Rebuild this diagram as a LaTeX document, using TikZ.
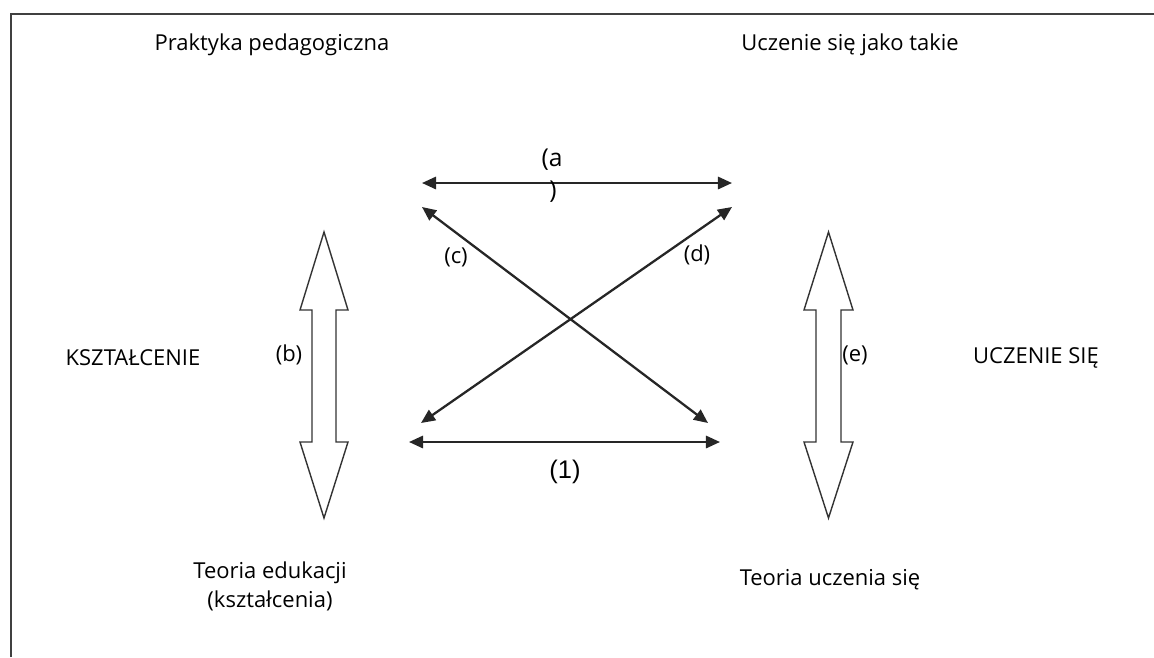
\documentclass[tikz,border=0pt]{standalone}
\usepackage{fontspec}
\setmainfont{Open Sans}
\newfontfamily\numfont{Liberation Sans}
\usepackage{tikz}
\usetikzlibrary{arrows.meta,positioning}

\tikzset{
  caption/.style={font=\fontsize{12.5}{16.5}\selectfont, inner sep=1pt, align=center},
  tag/.style={font=\fontsize{12.5}{15}\selectfont, inner sep=1pt},
  link/.style={line width=1.3pt, draw=black!85, {Triangle[length=8pt,width=7pt]}-{Triangle[length=8pt,width=7pt]}},
  blockarrow/.style={draw=black!80, line width=0.8pt, fill=white, line join=miter},
  frame/.style={draw=black!75, line width=1.1pt}
}

% hollow two-headed arrow, centre x, half shaft, half head
\newcommand{\blockarrow}[3]{%
  \draw[blockarrow] (#1,232) -- (#1+#3,310) -- (#1+#2,310) -- (#1+#2,442)
    -- (#1+#3,442) -- (#1,518) -- (#1-#3,442) -- (#1-#2,442)
    -- (#1-#2,310) -- (#1-#3,310) -- cycle;}

\begin{document}
\begin{tikzpicture}[x=0.02cm, y=-0.02cm]
\useasboundingbox (0,0) rectangle (1154,657);

% frame
\draw[frame] (11,657) -- (11,14) -- (1154,14);

% corner captions
\node[caption] (prakt) at (272,45) {Praktyka pedagogiczna};
\node[caption] (uczen) at (850,45) {Uczenie się jako takie};
\node[caption] (teored) at (270,586) {Teoria edukacji\\(kształcenia)};
\node[caption] (teoucz) at (830,580) {Teoria uczenia się};
\node[caption] (kszt) at (133,358) {KSZTAŁCENIE};
\node[caption] (uczsie) at (1036,358) {UCZENIE SIĘ};

% vertical block arrows
\blockarrow{324}{12}{24}
\blockarrow{828.5}{12.5}{24.5}
\node[tag] (b) at (289,355) {(b)};
\node[tag] (e) at (855,355) {(e)};

% end points of the thin arrows
\coordinate (tl) at (422,183);
\coordinate (tr) at (732,183);
\coordinate (ctop) at (422,207);
\coordinate (cbot) at (708,423);
\coordinate (dtop) at (732,207);
\coordinate (dbot) at (421,423);
\coordinate (bl) at (409,442);
\coordinate (br) at (720,442);

\draw[link] (tl) -- (tr);
\draw[link] (ctop) -- (cbot);
\draw[link] (dtop) -- (dbot);
\draw[link] (bl) -- (br);

\node[tag, font=\fontsize{14}{16}\selectfont] (a) at (552,160) {(a};
\node[tag, font=\fontsize{14}{16}\selectfont] (aclose) at (553,192) {)};
\node[tag] (c) at (456,257) {(c)};
\node[tag] (d) at (697,255) {(d)};
\node[tag, font=\numfont\fontsize{14.5}{16}\selectfont] (one) at (565,472) {(1)};
\end{tikzpicture}
\end{document}
